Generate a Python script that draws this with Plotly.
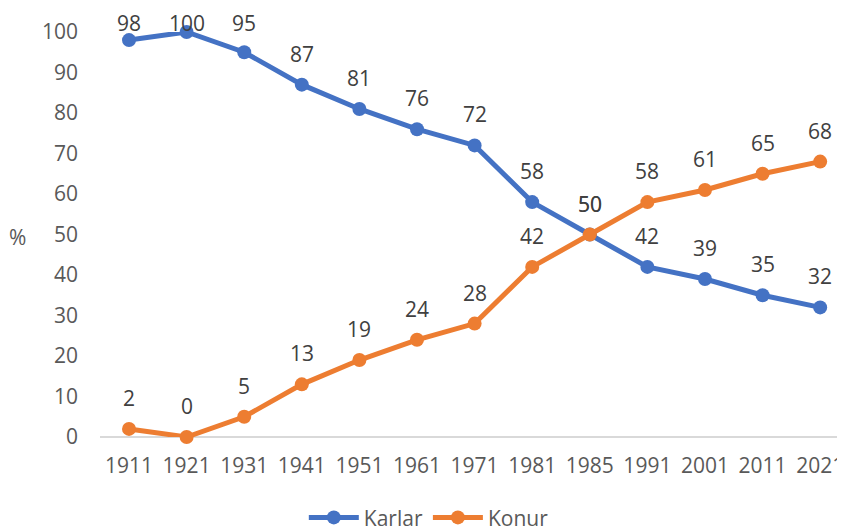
import plotly.graph_objects as go

years = ["1911", "1921", "1931", "1941", "1951", "1961", "1971", "1981", "1985", "1991", "2001", "2011", "2021"]
karlar = [98, 100, 95, 87, 81, 76, 72, 58, 50, 42, 39, 35, 32]
konur = [2, 0, 5, 13, 19, 24, 28, 42, 50, 58, 61, 65, 68]
yticks = [0, 10, 20, 30, 40, 50, 60, 70, 80, 90, 100]

FONT = "Open Sans"
FS = 21
TOP, PLOT_H = 24, 405
label_font = dict(family=FONT, size=FS, color="#404040")

fig = go.Figure()
for name, vals, color in [("Karlar", karlar, "#4472C4"), ("Konur", konur, "#ED7D31")]:
    fig.add_trace(go.Scatter(
        x=years, y=vals, name=name, mode="lines+markers",
        line=dict(color=color, width=5), marker=dict(size=14, color=color),
        cliponaxis=False,
    ))
    for i, v in enumerate(vals):
        px = TOP + (100 - v) / 100 * PLOT_H
        shift = min(31, px - 14.5)
        fig.add_annotation(x=i, y=v, text=str(v), showarrow=False,
                           xanchor="center", yanchor="middle", yshift=shift,
                           font=label_font)

fig.update_layout(
    width=845, height=531,
    margin=dict(l=92, r=0, t=TOP, b=531 - TOP - PLOT_H),
    plot_bgcolor="white", paper_bgcolor="white",
    font=dict(family=FONT, size=FS, color="#595959"),
    showlegend=True,
    legend=dict(orientation="h", xref="container", yref="container",
                x=0.498, xanchor="center", y=0.04, yanchor="middle",
                font=dict(family=FONT, size=FS, color="#595959"), itemwidth=50,
                tracegroupgap=0),
    xaxis=dict(type="category", range=[-0.504, 12.57], showgrid=False, automargin=False,
               showline=False, ticks="", ticklabelstandoff=14,
               tickfont=dict(size=FS, color="#595959")),
    yaxis=dict(range=[0, 100], tickvals=yticks, showgrid=False, zeroline=True, automargin=False,
               zerolinecolor="#D9D9D9", zerolinewidth=2, showline=False, ticks="",
               ticklabelstandoff=21, tickfont=dict(size=FS, color="#595959")),
)
fig.add_annotation(text="%", xref="paper", yref="paper", x=-0.109, y=0.494,
                   xanchor="center", yanchor="middle", showarrow=False,
                   font=dict(family=FONT, size=FS, color="#595959"))

fig.write_html("out.html")
